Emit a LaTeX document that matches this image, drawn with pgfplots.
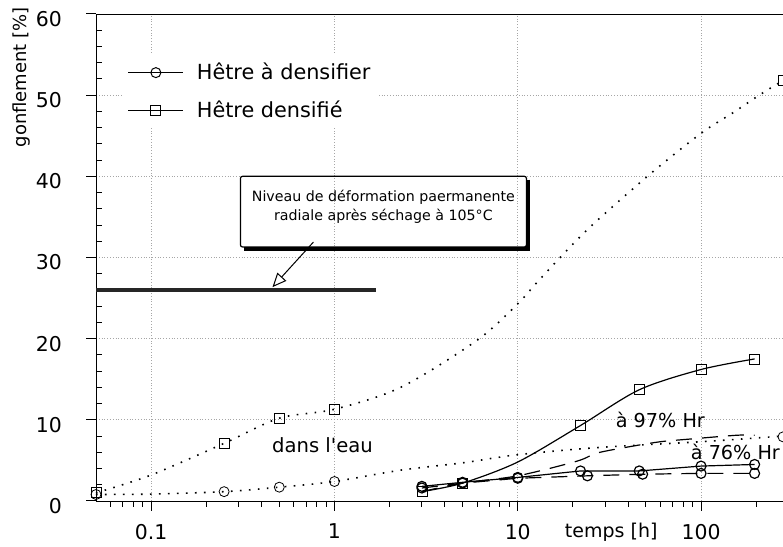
\documentclass[border=0pt]{standalone}
\usepackage{fontspec}
\setmainfont{DejaVu Sans}
\usepackage{pgfplots}
\pgfplotsset{compat=1.18}
\usetikzlibrary{arrows.meta}
\begin{document}
\begin{tikzpicture}
\begin{axis}[
  name=ax,
  scale only axis, width=343.5pt, height=243.5pt,
  xmode=log, xmin=0.05, xmax=280, ymin=0, ymax=60,
  axis x line=box, axis y line=left,
  x axis line style={-}, y axis line style={-},
  every outer x axis line/.append style={-},
  every outer y axis line/.append style={-},
  xtick pos=bottom, ytick pos=left,
  xtick={0.1,1,10,100}, xticklabels={0.1,1,10,100},
  minor xtick={0.06,0.07,0.08,0.09,0.2,0.3,0.4,0.5,0.6,0.7,0.8,0.9,2,3,4,5,6,7,8,9,20,30,40,50,60,70,80,90,200},
  ytick={0,10,...,60}, minor y tick num=4,
  grid=major,
  grid style={gray!70, densely dotted, line width=0.4pt},
  tick align=outside, major tick length=5pt, minor tick length=2.8pt,
  every minor y tick/.append style={xshift=2.8pt},
  tick style={black, line width=0.5pt},
  /pgf/number format/assume math mode=true,
  ticklabel style={font=\fontsize{10.2}{12}\selectfont},
  xticklabel shift=3pt,
  every y tick label/.append style={xshift=-8.5pt, yshift=-2.5pt},
  xlabel={temps [h]},
  xlabel style={at={(rel axis cs:0.75,0)}, anchor=base, yshift=-18.5pt, font=\fontsize{9.5}{11}\selectfont},
  ylabel={gonflement [\%]},
  ylabel style={at={(rel axis cs:-0.1077,0.87)}, anchor=center, font=\fontsize{9}{11}\selectfont},
  legend style={at={(rel axis cs:0.04,0.917)}, anchor=north west, draw=none, fill=white,
    font=\fontsize{10.4}{12}\selectfont, row sep=5pt, column sep=4.5pt, inner sep=2pt},
  legend cell align=left,
  legend image code/.code={\draw[mark repeat=2,mark phase=2,#1] plot coordinates {(0pt,0pt) (13.75pt,0pt) (27.5pt,0pt)};},
  mark size=2.5pt,
  clip=false,
]
\addlegendimage{black, line width=0.5pt, mark=o, mark options={solid}}
\addlegendentry{Hêtre  à  densifier}
\addlegendimage{black, line width=0.5pt, mark=square, mark options={solid}}
\addlegendentry{Hêtre  densifié}

% level line
\addplot[black!85, line width=1.6pt, forget plot] coordinates {(0.05,26) (1.69,26)};

% in water, densified (dotted)
\addplot[black, line width=0.8pt, dash pattern=on 0.8pt off 3.7pt, smooth, forget plot] coordinates {
 (0.05,1.0) (0.1,3.2) (0.25,7.1) (0.5,10.2) (1,11.3) (2.3,14.0) (6.0,19.8) (10,24.3)
 (13.3,27.4) (23.9,33.4) (51.6,40.1) (100,45.3) (151,47.9) (211,50.1) (280,51.8)};
\addplot[black, only marks, mark=square, forget plot] coordinates {
 (0.05,1.0) (0.25,7.1) (0.5,10.2) (1,11.3) (280,51.8)};

% in water, to densify (dotted)
\addplot[black, line width=0.8pt, dash pattern=on 0.8pt off 3.7pt, smooth, forget plot] coordinates {
 (0.05,0.8) (0.1,0.85) (0.25,1.15) (0.5,1.7) (1,2.4) (2.3,3.8) (5,4.7) (10,5.7) (28,6.6) (100,7.3) (280,8.0)};
\addplot[black, only marks, mark=o, forget plot] coordinates {
 (0.05,0.8) (0.25,1.15) (0.5,1.7) (1,2.4) (280,7.9)};

% 97% RH, densified (solid)
\addplot[black, line width=0.6pt, smooth, forget plot] coordinates {
 (3,1.15) (5,2.2) (10,4.8) (22,9.3) (46,13.7) (100,16.2) (196,17.5)};
\addplot[black, only marks, mark=square, forget plot] coordinates {
 (3,1.15) (5,2.2) (22,9.3) (46,13.7) (100,16.2) (196,17.5)};

% 97% RH, to densify (solid)
\addplot[black, line width=0.6pt, mark=o, forget plot] coordinates {
 (3,1.8) (5,2.3) (10,2.9) (22,3.7) (46,3.7) (100,4.3) (196,4.5)};

% 76% RH, to densify (dashed)
\addplot[black, line width=0.6pt, dash pattern=on 8pt off 5pt, mark=o, mark options={solid}, forget plot] coordinates {
 (3,1.6) (5,2.2) (10,2.8) (24,3.1) (48,3.3) (100,3.4) (196,3.4)};

% 76% RH, densified (dashed)
\addplot[black, line width=0.6pt, dash pattern=on 8pt off 5pt, smooth, forget plot] coordinates {
 (3,1.15) (5,2.2) (10,3.1) (21,4.9) (27,5.9) (41,6.7) (60,7.3) (84,7.6) (157,8.1) (196,8.1)};

% annotation box
\draw[line width=0.6pt, rounded corners=1pt] (axis cs:0.307,40) rectangle (axis cs:11.15,31.3);
\draw[line width=2pt] ([xshift=1pt]axis cs:11.15,39.6) -- ([xshift=1pt,yshift=-1pt]axis cs:11.15,31.3) -- ([yshift=-1pt]axis cs:0.32,31.3);
\node[font=\fontsize{7.1}{9.5}\selectfont, align=center] at (axis cs:1.85,36.2)
  {Niveau de déformation paermanente\\radiale après séchage à 105°C};
\draw[-{Triangle[open,length=7pt,width=6pt]}, line width=0.5pt] (axis cs:0.768,31.9) -- (axis cs:0.459,26.35);

\node[font=\fontsize{9.8}{12}\selectfont] at (axis cs:0.86,6.9) {dans l\textquotesingle eau};
\node[font=\fontsize{9.6}{12}\selectfont] at (axis cs:60,10.0) {à 97\% Hr};
\node[font=\fontsize{9.6}{12}\selectfont] at (axis cs:154,6.0) {à 76\% Hr};
\end{axis}
\pgfresetboundingbox
\path[use as bounding box] ([xshift=-48pt,yshift=-23pt]ax.south west) rectangle ([yshift=7pt]ax.north east);
\end{tikzpicture}
\end{document}
